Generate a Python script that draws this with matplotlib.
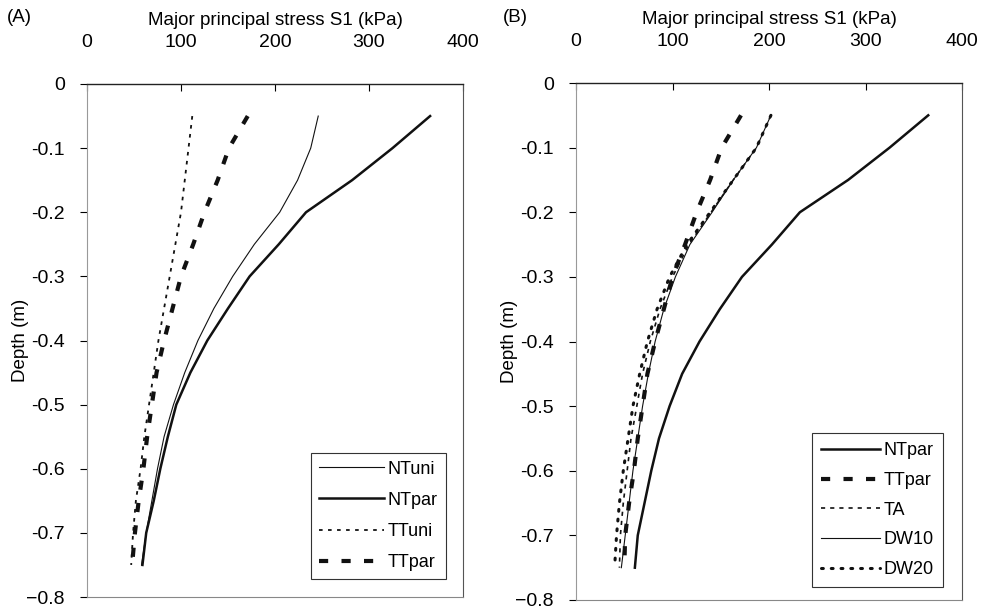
import matplotlib
matplotlib.use("Agg")
import matplotlib.pyplot as plt

plt.rcParams['font.family'] = ['Liberation Sans', 'DejaVu Sans']

depth = [-0.05, -0.10, -0.15, -0.20, -0.25, -0.30, -0.35, -0.40,
         -0.45, -0.50, -0.55, -0.60, -0.65, -0.70, -0.75]

# Panel A
A_NTuni = [246, 238, 224, 205, 178, 155, 135, 118, 104, 92, 82, 75, 69, 63, 58]
A_NTpar = [365, 325, 282, 233, 204, 173, 150, 128, 110, 95, 86, 78, 71, 63, 59]
A_TTuni = [112, 108, 104, 100, 94, 88, 82, 76, 71, 66, 61, 57, 52, 49, 47]
A_TTpar = [171, 151, 139, 125, 113, 100, 91, 82, 74, 69, 64, 60, 55, 51, 48]

# Panel B
B_NTpar = [365, 325, 282, 232, 203, 172, 149, 128, 110, 97, 86, 78, 71, 64, 61]
B_TTpar = [171, 151, 139, 125, 113, 100, 91, 82, 74, 69, 64, 60, 55, 51, 50]
B_TA = [202, 187, 163, 140, 117, 100, 87, 77, 69, 63, 57, 53, 49, 46, 45]
B_DW10 = [202, 187, 163, 141, 118, 103, 91, 82, 75, 69, 64, 59, 55, 51, 47]
B_DW20 = [202, 187, 163, 139, 115, 97, 84, 74, 66, 59, 54, 49, 45, 42, 40]

xticks = [0, 100, 200, 300, 400]
yticks = [0, -0.1, -0.2, -0.3, -0.4, -0.5, -0.6, -0.7, -0.8]
yticklabels = ["0", "-0.1", "-0.2", "-0.3", "-0.4", "-0.5", "-0.6", "-0.7", "\u22120.8"]

xlabel = "Major principal stress S1 (kPa)"
ylabel = "Depth (m)"

FS = 13.5
TFS = 14

fig = plt.figure(figsize=(9.84, 6.09), dpi=100)
axA = fig.add_axes([87/984, 1-597/609, 376/984, 513/609])
axB = fig.add_axes([576/984, 1-600/609, 386/984, 517/609])

def style(ax):
    ax.set_xlim(0, 400)
    ax.set_ylim(-0.8, 0)
    ax.set_xticks(xticks)
    ax.set_yticks(yticks)
    ax.set_yticklabels(yticklabels)
    ax.xaxis.tick_top()
    ax.xaxis.set_label_position('top')
    ax.tick_params(axis='x', direction='in', length=5, width=0.8, labelsize=TFS, pad=24)
    ax.tick_params(axis='y', direction='out', length=5, width=0.8, labelsize=TFS, pad=11)
    ax.set_xlabel(xlabel, fontsize=FS, labelpad=6)
    ax.set_ylabel(ylabel, fontsize=FS, labelpad=-2)
    ax.spines['top'].set_linewidth(1.0)
    ax.spines['top'].set_color('#222222')
    ax.spines['left'].set_color('#999999')
    ax.spines['left'].set_linewidth(0.8)
    ax.spines['right'].set_color('#555555')
    ax.spines['right'].set_linewidth(0.8)
    ax.spines['bottom'].set_color('#888888')
    ax.spines['bottom'].set_linewidth(0.8)

style(axA)
style(axB)

k = '#111111'
axA.plot(A_NTuni, depth, color=k, lw=0.8, label='NTuni')
axA.plot(A_NTpar, depth, color=k, lw=1.8, label='NTpar')
axA.plot(A_TTuni, depth, color=k, lw=1.3, linestyle=(0, (2, 3)), label='TTuni')
axA.plot(A_TTpar, depth, color=k, lw=3.0, linestyle=(0, (2.2, 3.2)), label='TTpar')

axB.plot(B_NTpar, depth, color=k, lw=1.8, label='NTpar')
axB.plot(B_TTpar, depth, color=k, lw=3.0, linestyle=(0, (2.2, 3.2)), label='TTpar')
axB.plot(B_TA, depth, color=k, lw=1.2, linestyle=(0, (2.5, 3)), label='TA')
axB.plot(B_DW10, depth, color=k, lw=0.8, label='DW10')
axB.plot(B_DW20, depth, color=k, lw=2.2, linestyle=(0, (0.6, 2.6)), dash_capstyle='round', label='DW20')

legA = axA.legend(loc='lower right', bbox_to_anchor=(0.955, 0.035), fontsize=13,
                  frameon=True, fancybox=False, edgecolor='#333333', framealpha=1,
                  handlelength=3.6, handletextpad=0.2, labelspacing=0.78,
                  borderpad=0.45, borderaxespad=0)
legA.get_frame().set_linewidth(0.8)
legB = axB.legend(loc='lower right', bbox_to_anchor=(0.951, 0.025), fontsize=13,
                  frameon=True, fancybox=False, edgecolor='#333333', framealpha=1,
                  handlelength=3.3, handletextpad=0.2, labelspacing=0.7,
                  borderpad=0.5, borderaxespad=0)
legB.get_frame().set_linewidth(0.8)

fig.text(7/984, 1-18/609, "(A)", fontsize=FS, ha='left', va='center')
fig.text(503/984, 1-18/609, "(B)", fontsize=FS, ha='left', va='center')

fig.savefig("out.png", dpi=100)
